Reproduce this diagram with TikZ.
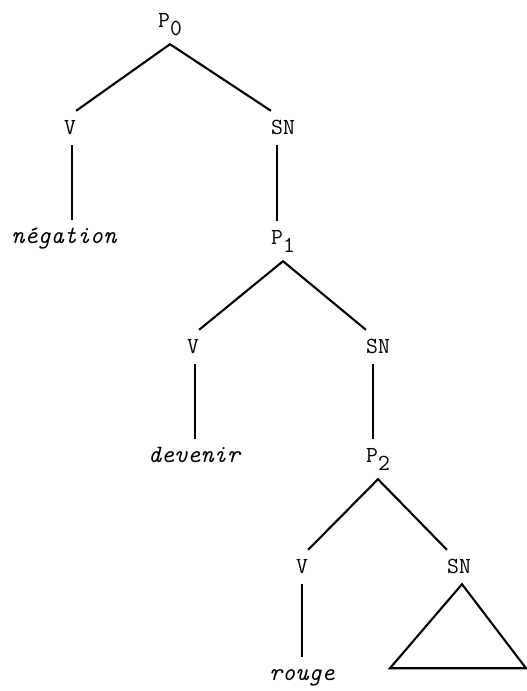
\documentclass[tikz,border=0pt]{standalone}
\usepackage{fontspec}
\begin{document}
\begin{tikzpicture}[x=1pt,y=-1pt,
  lab/.style={font=\fontsize{23}{23}\selectfont\ttfamily, inner xsep=0pt, inner ysep=11pt,
     text height=12pt, text depth=0pt, anchor=base},
  plab/.style={lab, text depth=6pt},
  word/.style={lab, font=\fontsize{25}{25}\selectfont\ttfamily\itshape},
  br/.style={line width=2.1pt}]
\useasboundingbox (0,0) rectangle (527,691);
\newcommand{\sbs}[1]{\raisebox{-8pt}{#1}}
% nodes
\node[plab] (P0) at (170,27) {P\sbs{0}};
\node[lab] (V1) at (70,134) {V};
\node[lab] (SN1) at (283,134) {SN};
\node[word] (neg) at (64,243) {négation};
\node[plab] (P1) at (283,244) {P\sbs{1}};
\node[lab] (V2) at (193,353) {V};
\node[lab] (SN2) at (378,353) {SN};
\node[word] (dev) at (194,462) {devenir};
\node[plab] (P2) at (378,462) {P\sbs{2}};
\node[lab] (V3) at (302,573) {V};
\node[lab] (SN3) at (459,573) {SN};
\node[word] (rouge) at (302,680) {rouge};
% branches
\draw[br] (V1.north east) -- (P0.south) -- (SN1.north west);
\draw[br] ([xshift=2pt]V1.south) -- ([xshift=2pt]V1.south |- neg.north);
\draw[br] ([xshift=-6pt]SN1.south) -- ([xshift=-6pt]SN1.south |- P1.north);
\draw[br] (V2.north east) -- (P1.south) -- (SN2.north west);
\draw[br] ([xshift=2pt]V2.south) -- ([xshift=2pt]V2.south |- dev.north);
\draw[br] ([xshift=-5pt]SN2.south) -- ([xshift=-5pt]SN2.south |- P2.north);
\draw[br] (V3.north east) -- (P2.south) -- (SN3.north west);
\draw[br] (V3.south) -- (V3.south |- rouge.north);
\draw[br, line join=miter] ([xshift=3pt]SN3.south) -- ++(-72,84) -- ++(136,0) -- cycle;
\end{tikzpicture}
\end{document}
